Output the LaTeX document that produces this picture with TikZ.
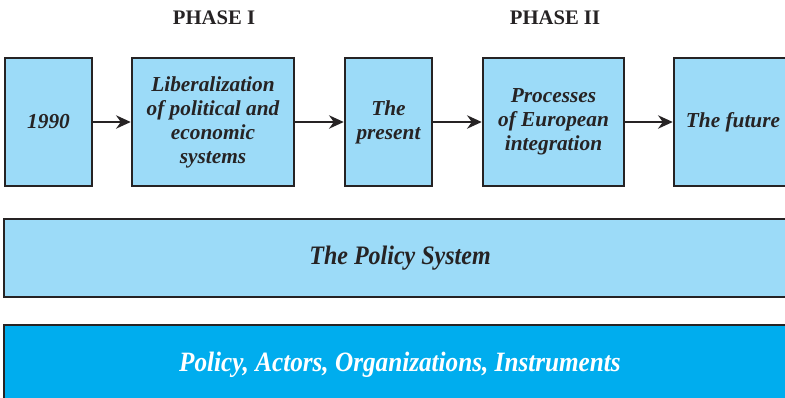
\documentclass[tikz,border=0pt]{standalone}
\usepackage{fontspec}
\setmainfont{Liberation Serif}
\usetikzlibrary{arrows.meta}
\definecolor{paleblue}{HTML}{9CDBF8}
\definecolor{deepblue}{HTML}{00ADEE}
\definecolor{inkline}{HTML}{262324}
\begin{document}
\begin{tikzpicture}[x=0.75pt,y=-0.75pt,
  stagebox/.style={draw=inkline,line width=1.9pt,fill=paleblue,
    rectangle,inner sep=0pt,minimum height=96pt,align=center,
    font=\fontsize{16}{18}\selectfont\bfseries\itshape,text=inkline},
  phase/.style={font=\fontsize{15.5}{17}\selectfont\bfseries,text=inkline},
  flow/.style={-{Stealth[length=11pt,width=10pt]},line width=1.5pt,draw=inkline},
  band/.style={draw=inkline,line width=1.9pt,rectangle,inner sep=0pt,
    minimum width=594pt,font=\bfseries\itshape}]
\useasboundingbox (0,0) rectangle (785,397);
% phase headings
\node[phase] (ph1) at (214,18) {PHASE I};
\node[phase] (ph2) at (555,18) {PHASE II};
% stage boxes
\node[stagebox,minimum width=65.25pt] (s1) at (48.5,122) {1990};
\node[stagebox,minimum width=121.5pt] (s2) at (213,122) {Liberalization\\of political and\\economic\\systems};
\node[stagebox,minimum width=65.25pt] (s3) at (388.5,122) {The\\present};
\node[stagebox,minimum width=105.75pt] (s4) at (553.5,122) {Processes\\of European\\integration};
\node[stagebox,minimum width=88.5pt] (s5) at (733,122) {The future};
% connectors
\draw[flow] (s1) -- (s2);
\draw[flow] (s2) -- (s3);
\draw[flow] (s3) -- (s4);
\draw[flow] (s4) -- (s5);
% bands
\node[band,fill=paleblue,minimum height=58.5pt,text=inkline]
  (sys) at (400,258) {\fontsize{20}{22}\selectfont\scalebox{0.9}[1]{The Policy System}};
\node[band,fill=deepblue,minimum height=75pt,text=white]
  (pol) at (400,375) {\raisebox{19.5pt}{\fontsize{21}{23}\selectfont\scalebox{0.9}[1]{Policy, Actors, Organizations, Instruments}}};
\end{tikzpicture}
\end{document}
